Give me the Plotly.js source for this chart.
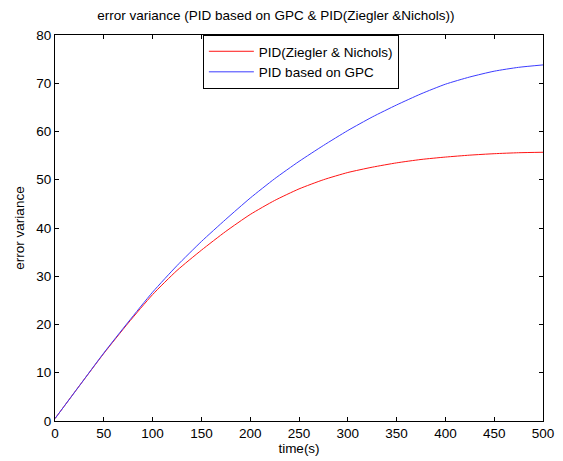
<!DOCTYPE html>
<html>
<head>
<meta charset="utf-8">
<script src="https://cdn.plot.ly/plotly-3.0.1.min.js"></script>
<style>html,body{margin:0;padding:0;background:#fff;}#chart{width:563px;height:461px;}</style>
</head>
<body>
<div id="chart"></div>
<script>
const timeS = [0,25,50,75,100,125,150,175,200,225,250,275,300,325,350,375,400,425,450,475,500];
const pidZN = [0.5,7.3,14.0,20.3,26.2,31.2,35.4,39.3,42.8,45.7,48.1,50.0,51.5,52.6,53.5,54.2,54.7,55.1,55.4,55.6,55.7];
const pidGPC = [0.5,7.3,14.1,20.5,26.7,32.2,37.2,41.8,46.2,50.2,53.8,57.1,60.2,63.0,65.5,67.8,69.8,71.3,72.5,73.3,73.8];
const xTicks = [0,50,100,150,200,250,300,350,400,450,500];
const yTicks = [0,10,20,30,40,50,60,70,80];

const font = {family: '"Liberation Sans", Arial, sans-serif', size: 13.5, color: '#000'};
const traces = [
  {x: timeS, y: pidZN, type: 'scatter', mode: 'lines', name: 'PID(Ziegler & Nichols)', line: {color: 'rgb(255,20,20)', width: 1, shape: 'spline', smoothing: 0.6}},
  {x: timeS, y: pidGPC, type: 'scatter', mode: 'lines', name: 'PID based on GPC', line: {color: 'rgb(60,60,255)', width: 1, shape: 'spline', smoothing: 0.6}}
];
const axisCommon = {showline: true, linecolor: '#000', linewidth: 1, mirror: 'ticks', ticks: 'inside', ticklen: 4, tickcolor: '#000', showgrid: false, zeroline: false, tickfont: font};
const layout = {
  width: 563, height: 461,
  margin: {l: 55, r: 20, t: 35, b: 40},
  paper_bgcolor: '#fff', plot_bgcolor: '#fff',
  font: font,
  title: {text: 'error variance (PID based on GPC & PID(Ziegler &Nichols))', font: font, x: 0.49, xanchor: 'center', y: 0.978, yanchor: 'top'},
  xaxis: Object.assign({}, axisCommon, {range: [0, 500], tickvals: xTicks, title: {text: 'time(s)', font: font, standoff: 2}}),
  yaxis: Object.assign({}, axisCommon, {range: [0, 80], tickvals: yTicks, title: {text: 'error variance', font: font, standoff: 8}}),
  showlegend: true,
  legend: {x: 0.303, y: 1, xanchor: 'left', yanchor: 'top', bordercolor: '#000', borderwidth: 1, bgcolor: '#fff', font: font, tracegroupgap: 0, itemwidth: 45}
};
Plotly.newPlot('chart', traces, layout, {displayModeBar: false, staticPlot: true});
</script>
</body>
</html>
